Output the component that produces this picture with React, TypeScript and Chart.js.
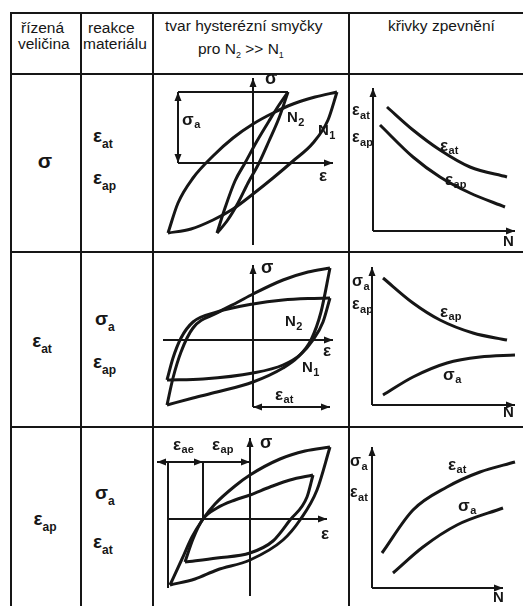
import { useEffect, useRef } from "react";
import { Chart, registerables } from "chart.js";

Chart.register(...registerables);

const INK = "#161616";
const FONT = '"Liberation Sans", Arial, Helvetica, sans-serif';

// ---------- Řízení napětím σ: smyčky N1 (široká) a N2 (úzká), ε vs σ ----------
const sigN1UpEps = [-85, -75, -60, -40, -20, 0, 20, 40, 62, 84];
const sigN1UpSig = [-70, -40, -15, 7, 25, 39, 50, 59, 66, 71];
const sigN1LoEps = [-85, -62, -40, -20, 0, 20, 40, 60, 75, 84];
const sigN1LoSig = [-70, -66, -57, -46, -31, -15, 2, 20, 43, 71];
const sigN2UpEps = [-36, -28, -18, -8, 4, 16, 26, 35];
const sigN2UpSig = [-70, -45, -18, 0, 22, 42, 58, 71];
const sigN2LoEps = [-36, -26, -15, -5, 6, 16, 26, 35];
const sigN2LoSig = [-70, -58, -40, -20, 0, 22, 45, 71];

// ---------- Řízení celkovou deformací ε_at ----------
const atN2UpEps = [-86, -80, -72, -60, -36, -15, 0, 30, 55, 77];
const atN2UpSig = [-65, -38, -12, 12, 27, 38, 46, 60, 68, 72];
const atN2LoEps = [-86, -60, -36, 0, 30, 45, 58, 68, 77];
const atN2LoSig = [-65, -58, -52, -42, -28, -17, 0, 28, 72];
const atN1UpEps = [-86, -80, -72, -60, -36, 0, 30, 55, 77];
const atN1UpSig = [-40, -18, 2, 18, 28, 36, 40, 41.5, 42];
const atN1LoEps = [-86, -50, 0, 30, 48, 60, 70, 77];
const atN1LoSig = [-40, -39, -33, -25, -14, 0, 18, 42];

// ---------- Řízení plastickou deformací ε_ap ----------
const apBigUpEps = [-80, -68, -58, -47, -35, -15, 0, 30, 55, 80];
const apBigUpSig = [-66, -40, -18, 0, 15, 33, 44, 60, 68, 72];
const apBigLoEps = [-80, -55, -33, 0, 33, 50, 67, 80];
const apBigLoSig = [-66, -60, -51, -41, -21, -1, 29, 72];
const apSmUpEps = [-65, -57, -47, -33, -15, 0, 20, 40, 63];
const apSmUpSig = [-43, -20, 0, 11, 19, 24, 32, 39, 44];
const apSmLoEps = [-65, -33, 0, 23, 40, 57, 63];
const apSmLoSig = [-43, -39, -34, -22, -1, 22, 44];

// ---------- Křivky zpevnění (hodnota vs. N) ----------
const hard1N_eat = [14, 40, 67, 97, 134];
const hard1V_eat = [124, 101, 81, 64, 54];
const hard1N_eap = [7, 40, 67, 97, 132];
const hard1V_eap = [106, 74, 54, 38, 24];

const hard2N_eap = [11, 41, 68, 101, 135];
const hard2V_eap = [127, 102, 85, 72, 65];
const hard2N_sa = [11, 41, 75, 108, 143];
const hard2V_sa = [10, 28, 42, 48, 50];

const hard3N_eat = [10, 41, 75, 108, 143];
const hard3V_eat = [35, 78, 101, 116, 126];
const hard3N_sa = [21, 51, 85, 131];
const hard3V_sa = [15, 41, 63, 80];

type P2 = [number, number];
type Seg = { from: P2; to: P2; head?: boolean; tail?: boolean; w?: number };
type Txt = { t: string; s?: string; x: number; y: number; size?: number; sub?: number };
type Scheme = { lines: Seg[]; texts: Txt[] };
type Series = { x: number[]; y: number[] };
type Cell = { box: [number, number, number, number]; origin: P2; series: Series[]; scheme: Scheme };

const pts = (xs: number[], ys: number[]) => xs.map((x, i) => ({ x, y: ys[i] }));

function arrowHead(ctx: CanvasRenderingContext2D, x0: number, y0: number, x1: number, y1: number) {
  const a = Math.atan2(y1 - y0, x1 - x0);
  const L = 9;
  const H = 3.5;
  const c = Math.cos(a);
  const s = Math.sin(a);
  ctx.beginPath();
  ctx.moveTo(x1, y1);
  ctx.lineTo(x1 - L * c + H * s, y1 - L * s - H * c);
  ctx.lineTo(x1 - L * c - H * s, y1 - L * s + H * c);
  ctx.closePath();
  ctx.fill();
}

function drawScheme(chart: Chart, scheme: Scheme) {
  const ctx = chart.ctx;
  const xs = chart.scales.x;
  const ys = chart.scales.y;
  const px = (v: number) => xs.getPixelForValue(v);
  const py = (v: number) => ys.getPixelForValue(v);
  ctx.save();
  ctx.strokeStyle = INK;
  ctx.fillStyle = INK;
  for (const l of scheme.lines) {
    const x0 = px(l.from[0]);
    const y0 = py(l.from[1]);
    const x1 = px(l.to[0]);
    const y1 = py(l.to[1]);
    ctx.lineWidth = l.w ?? 2;
    ctx.beginPath();
    ctx.moveTo(x0, y0);
    ctx.lineTo(x1, y1);
    ctx.stroke();
    if (l.head) arrowHead(ctx, x0, y0, x1, y1);
    if (l.tail) arrowHead(ctx, x1, y1, x0, y0);
  }
  ctx.textAlign = "left";
  ctx.textBaseline = "middle";
  for (const t of scheme.texts) {
    const size = t.size ?? 17;
    ctx.font = `bold ${size}px ${FONT}`;
    const x = px(t.x);
    const y = py(t.y);
    ctx.fillText(t.t, x, y);
    if (t.s) {
      const w = ctx.measureText(t.t).width;
      ctx.font = `bold ${t.sub ?? 11}px ${FONT}`;
      ctx.fillText(t.s, x + w + 0.5, y + size * 0.32);
    }
  }
  ctx.restore();
}

const CELLS: Cell[] = [
  {
    box: [153, 75, 195, 176],
    origin: [253, 163],
    series: [
      { x: sigN1UpEps, y: sigN1UpSig },
      { x: sigN1LoEps, y: sigN1LoSig },
      { x: sigN2UpEps, y: sigN2UpSig },
      { x: sigN2LoEps, y: sigN2LoSig },
    ],
    scheme: {
      lines: [
        { from: [0, -82], to: [0, 85], head: true },
        { from: [-75, 0], to: [80, 0], head: true },
        { from: [-75, 71], to: [35, 71] },
        { from: [-75, 0], to: [-75, 71], head: true, tail: true },
      ],
      texts: [
        { t: "σ", x: 12, y: 84, size: 18 },
        { t: "σ", s: "a", x: -71, y: 43, size: 17 },
        { t: "N", s: "2", x: 34, y: 45, size: 15, sub: 11 },
        { t: "N", s: "1", x: 65, y: 32, size: 15, sub: 11 },
        { t: "ε", x: 66, y: -13, size: 17 },
      ],
    },
  },
  {
    box: [153, 252, 195, 174],
    origin: [253, 340],
    series: [
      { x: atN2UpEps, y: atN2UpSig },
      { x: atN2LoEps, y: atN2LoSig },
      { x: atN1UpEps, y: atN1UpSig },
      { x: atN1LoEps, y: atN1LoSig },
    ],
    scheme: {
      lines: [
        { from: [0, -67], to: [0, 75], head: true },
        { from: [-90, 0], to: [80, 0], head: true },
        { from: [0, -67], to: [77, -67], head: true, tail: true },
      ],
      texts: [
        { t: "σ", x: 8, y: 72, size: 18 },
        { t: "ε", s: "at", x: 22, y: -55, size: 17 },
        { t: "N", s: "2", x: 32, y: 18, size: 15, sub: 11 },
        { t: "N", s: "1", x: 49, y: -28, size: 15, sub: 11 },
        { t: "ε", x: 70, y: -11, size: 17 },
      ],
    },
  },
  {
    box: [153, 427, 195, 179],
    origin: [250, 519],
    series: [
      { x: apBigUpEps, y: apBigUpSig },
      { x: apBigLoEps, y: apBigLoSig },
      { x: apSmUpEps, y: apSmUpSig },
      { x: apSmLoEps, y: apSmLoSig },
    ],
    scheme: {
      lines: [
        { from: [0, -77], to: [0, 81], head: true },
        { from: [-82, 0], to: [77, 0], head: true },
        { from: [-93, 57], to: [0, 57], head: true, tail: true },
        { from: [-62, 57], to: [-47, 57], head: true },
        { from: [-82, 57], to: [-82, -69] },
        { from: [-47, 57], to: [-47, 0] },
      ],
      texts: [
        { t: "σ", x: 10, y: 76, size: 18 },
        { t: "ε", s: "ae", x: -77, y: 74, size: 17 },
        { t: "ε", s: "ap", x: -38, y: 74, size: 17 },
        { t: "ε", x: 71, y: -15, size: 17 },
      ],
    },
  },
  {
    box: [349, 75, 174, 176],
    origin: [373, 231],
    series: [
      { x: hard1N_eat, y: hard1V_eat },
      { x: hard1N_eap, y: hard1V_eap },
    ],
    scheme: {
      lines: [
        { from: [0, 0], to: [0, 143], head: true },
        { from: [0, 0], to: [142, 0], head: true },
      ],
      texts: [
        { t: "ε", s: "at", x: -21, y: 120, size: 16 },
        { t: "ε", s: "ap", x: -21, y: 93, size: 16 },
        { t: "ε", s: "at", x: 67, y: 85, size: 17 },
        { t: "ε", s: "ap", x: 72, y: 51, size: 17 },
        { t: "N", x: 130, y: -11, size: 15 },
      ],
    },
  },
  {
    box: [349, 252, 174, 174],
    origin: [372, 405],
    series: [
      { x: hard2N_eap, y: hard2V_eap },
      { x: hard2N_sa, y: hard2V_sa },
    ],
    scheme: {
      lines: [
        { from: [0, 0], to: [0, 138], head: true },
        { from: [0, 0], to: [143, 0], head: true },
      ],
      texts: [
        { t: "σ", s: "a", x: -20, y: 123, size: 16 },
        { t: "ε", s: "ap", x: -20, y: 100, size: 16 },
        { t: "ε", s: "ap", x: 68, y: 93, size: 17 },
        { t: "σ", s: "a", x: 71, y: 30, size: 17 },
        { t: "N", x: 131, y: -8, size: 15 },
      ],
    },
  },
  {
    box: [349, 427, 174, 179],
    origin: [372, 588],
    series: [
      { x: hard3N_eat, y: hard3V_eat },
      { x: hard3N_sa, y: hard3V_sa },
    ],
    scheme: {
      lines: [
        { from: [0, 0], to: [0, 141], head: true },
        { from: [0, 0], to: [131, 0], head: true },
      ],
      texts: [
        { t: "σ", s: "a", x: -22, y: 126, size: 16 },
        { t: "ε", s: "at", x: -22, y: 95, size: 16 },
        { t: "ε", s: "at", x: 76, y: 123, size: 17 },
        { t: "σ", s: "a", x: 86, y: 82, size: 17 },
        { t: "N", x: 121, y: -10, size: 15 },
      ],
    },
  },
];

function SchemeChart({ cell }: { cell: Cell }) {
  const ref = useRef<HTMLCanvasElement>(null);
  const [left, top, w, h] = cell.box;
  useEffect(() => {
    if (!ref.current) return;
    const [ox, oy] = cell.origin;
    const xMin = left - ox;
    const yMax = oy - top;
    const chart = new Chart(ref.current, {
      type: "scatter",
      data: {
        datasets: cell.series.map((s) => ({
          data: pts(s.x, s.y),
          showLine: true,
          borderColor: INK,
          borderWidth: 3,
          pointRadius: 0,
          cubicInterpolationMode: "monotone" as const,
          fill: false,
        })),
      },
      options: {
        animation: false,
        responsive: false,
        devicePixelRatio: 1,
        events: [],
        layout: { padding: 0 },
        scales: {
          x: { type: "linear", min: xMin, max: xMin + w, display: false },
          y: { type: "linear", min: yMax - h, max: yMax, display: false },
        },
        plugins: { legend: { display: false }, tooltip: { enabled: false } },
      },
      plugins: [
        {
          id: "scheme",
          afterDatasetsDraw(c: Chart) {
            drawScheme(c, cell.scheme);
          },
        },
      ],
    });
    return () => chart.destroy();
  }, [cell, left, top, w, h]);
  return (
    <canvas
      ref={ref}
      width={w}
      height={h}
      style={{ position: "absolute", left, top, width: w, height: h }}
    />
  );
}

function Sym({ m, s, x, y, size = 19, sub = 12, center = false }: { m: string; s?: string; x: number; y: number; size?: number; sub?: number; center?: boolean }) {
  return (
    <span
      style={{
        position: "absolute",
        left: x,
        top: y,
        transform: center ? "translate(-50%, -50%)" : "translateY(-50%)",
        fontSize: size,
        fontWeight: "bold",
        lineHeight: 1,
        whiteSpace: "nowrap",
      }}
    >
      {m}
      {s && <span style={{ fontSize: sub, position: "relative", top: size * 0.3 }}>{s}</span>}
    </span>
  );
}

function Head({ text, x, y }: { text: React.ReactNode; x: number; y: number }) {
  return (
    <span style={{ position: "absolute", left: x, top: y, transform: "translateY(-50%)", fontSize: 15.5, lineHeight: 1, whiteSpace: "nowrap" }}>
      {text}
    </span>
  );
}

const rule = (left: number, top: number, width: number, height: number, key: string) => (
  <div key={key} style={{ position: "absolute", left, top, width, height, background: INK }} />
);

export default function App() {
  const colX = [10, 80, 152, 348];
  const rowY = [12, 73, 251, 426];
  const subStyle = { fontSize: 9, position: "relative" as const, top: 4 };
  return (
    <div
      style={{
        position: "absolute",
        left: 0,
        top: 0,
        width: 523,
        height: 606,
        background: "#fff",
        overflow: "hidden",
        fontFamily: FONT,
        color: INK,
      }}
    >
      {CELLS.map((c, i) => (
        <SchemeChart key={i} cell={c} />
      ))}
      {rowY.map((y, i) => rule(10, y, 513, 2, "r" + i))}
      {colX.map((x, i) => rule(x, 12, 2, 594, "c" + i))}

      <Head text="řízená" x={21} y={28} />
      <Head text="veličina" x={18} y={44} />
      <Head text="reakce" x={88} y={28} />
      <Head text="materiálu" x={83} y={44} />
      <Head text="tvar hysterézní smyčky" x={165} y={26} />
      <Head
        text={
          <>
            pro N<span style={subStyle}>2</span> &gt;&gt; N<span style={subStyle}>1</span>
          </>
        }
        x={198}
        y={49}
      />
      <Head text="křivky zpevnění" x={388} y={26} />

      <Sym m="σ" x={45} y={160} size={21} center />
      <Sym m="ε" s="at" x={93} y={135} />
      <Sym m="ε" s="ap" x={93} y={177} />

      <Sym m="ε" s="at" x={42} y={340} center />
      <Sym m="σ" s="a" x={95} y={318} />
      <Sym m="ε" s="ap" x={93} y={361} />

      <Sym m="ε" s="ap" x={45} y={518} center />
      <Sym m="σ" s="a" x={95} y={492} />
      <Sym m="ε" s="at" x={93} y={541} />
    </div>
  );
}
